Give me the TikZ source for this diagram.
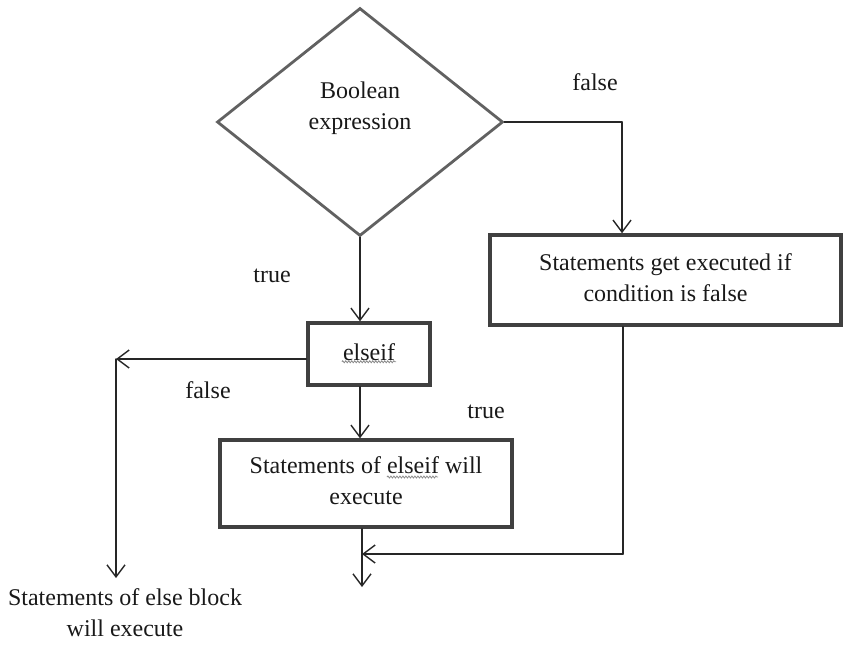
\documentclass[tikz,border=0pt]{standalone}
\usepackage{fontspec}
\setmainfont{Liberation Serif}
\usetikzlibrary{shapes.geometric,arrows.meta,decorations.pathmorphing}
\begin{document}
\begin{tikzpicture}[x=1pt,y=-1pt,
  txt/.style={font=\fontsize{24}{31}\selectfont, text=black!90, align=center, inner sep=0pt},
  decision/.style={diamond, draw=black!62, line width=2.8pt, inner sep=0pt,
    minimum width=286pt, minimum height=228pt},
  stepbox/.style={draw=black!75, line width=3.5pt, inner sep=0pt},
  conn/.style={draw=black!85, line width=1.4pt, line cap=round},
  arr/.style={conn, -{Straight Barb[length=12pt,width=18pt,line width=1.4pt]}},
  squiggle/.style={draw=black!45, line width=0.8pt,
    decorate, decoration={snake, amplitude=1pt, segment length=3pt}}
]
\useasboundingbox (0,0) rectangle (843,649);

% decision
\node[decision] (dec) at (360,122) {};
\node[txt] (dectext) at (360,108) {Boolean\\expression};

% boxes
\node[stepbox, minimum width=351pt, minimum height=90pt] (rbox) at (665.5,280) {};
\node[txt] (rtext) at (665.5,278) {Statements get executed if\\condition is false};

\node[stepbox, minimum width=122pt, minimum height=62pt] (eif) at (369,354) {};
\node[txt] (eiftext) at (369,352) {elseif};

\node[stepbox, minimum width=292pt, minimum height=87pt] (sbox) at (366,483.5) {};
\node[txt] (stext) at (366,481) {Statements of elseif will\\execute};

\node[txt] (elsetext) at (125,613) {Statements of else block\\will execute};

% spell-check squiggles under "elseif"
\draw[squiggle] ([xshift=-1pt,yshift=-1pt]eiftext.south west) -- ([xshift=1pt,yshift=-1pt]eiftext.south east);
\coordinate (sq1) at (387,477);
\coordinate (sq2) at (438,477);
\draw[squiggle] (sq1) -- (sq2);

% labels
\node[txt] (lf1) at (595,82) {false};
\node[txt] (lt1) at (272,276) {true};
\node[txt] (lf2) at (208,390) {false};
\node[txt] (lt2) at (486,412) {true};

% corner points
\coordinate (c1) at (622,122);
\coordinate (c2) at (116,359);
\coordinate (c3) at (116,578);
\coordinate (c4) at (362,587);
\coordinate (c5) at (623,554);
\coordinate (c6) at (362,554);

% connectors
\draw[conn] (dec.east) -- (c1);
\draw[arr] (c1) -- (c1 |- rbox.north);
\draw[arr] (dec.south) -- (dec.south |- eif.north);
\draw[arr] (c2 -| eif.west) -- (c2);
\draw[arr] (c2) -- (c3);
\draw[arr] (dec.south |- eif.south) -- (dec.south |- sbox.north);
\draw[arr] (c4 |- sbox.south) -- (c4);
\draw[conn] (c5 |- rbox.south) -- (c5);
\draw[arr] (c5) -- (c6);
\end{tikzpicture}
\end{document}
